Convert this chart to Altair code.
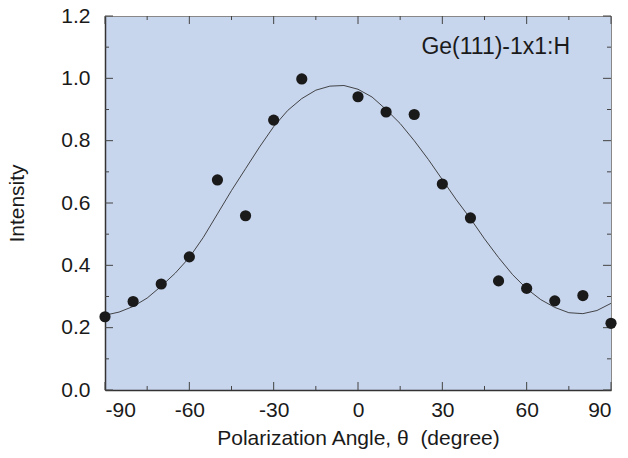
import altair as alt
import pandas as pd

# measured points
theta_pts = [-90, -80, -70, -60, -50, -40, -30, -20, 0, 10, 20, 30, 40, 50, 60, 70, 80, 90]
intensity_pts = [0.235, 0.284, 0.34, 0.427, 0.674, 0.559, 0.866, 0.998, 0.941, 0.892, 0.884,
                 0.661, 0.552, 0.35, 0.326, 0.286, 0.303, 0.214]

# fitted curve
fit_theta = [-90, -85, -80, -75, -70, -65, -60, -55, -50, -45, -40, -35, -30, -25, -20, -15,
             -10, -5, 0, 5, 10, 15, 20, 25, 30, 35, 40, 45, 50, 55, 60, 65, 70, 75, 80, 85, 90]
fit_intensity = [0.24, 0.25, 0.268, 0.295, 0.333, 0.375, 0.425, 0.49, 0.565, 0.64, 0.71,
                 0.78, 0.845, 0.897, 0.935, 0.962, 0.975, 0.977, 0.965, 0.94, 0.9, 0.855,
                 0.80, 0.74, 0.675, 0.61, 0.55, 0.485, 0.425, 0.37, 0.325, 0.29, 0.265,
                 0.248, 0.245, 0.255, 0.278]

x_major = [-90, -60, -30, 0, 30, 60, 90]
x_minor = [-75, -45, -15, 15, 45, 75]
y_major = [0.0, 0.2, 0.4, 0.6, 0.8, 1.0, 1.2]
y_minor = [0.1, 0.3, 0.5, 0.7, 0.9, 1.1]

label_text = ["Ge(111)-1x1:H"]
label_x = [49]
label_y = [1.1]

W, H = 506, 374
FONT = "Liberation Sans"
FS = 21

xs = alt.Scale(domain=[-90, 90], nice=False, zero=False)
ys = alt.Scale(domain=[0, 1.2], nice=False, zero=True)

pts = pd.DataFrame({"theta": theta_pts, "I": intensity_pts})
fit = pd.DataFrame({"theta": fit_theta, "I": fit_intensity})
xmaj = pd.DataFrame({"v": x_major})
xmin = pd.DataFrame({"v": x_minor})
ymaj = pd.DataFrame({"v": y_major})
ymin = pd.DataFrame({"v": y_minor})
lab = pd.DataFrame({"t": label_text, "x": label_x, "y": label_y})

xaxis = alt.Axis(values=x_major, labelExpr="replace(datum.label, '\u2212', '-')",
                 format="d", labelFontSize=FS, labelFont=FONT,
                 labelColor="#1a1a1a", tickSize=0, labelPadding=9, grid=False,
                 domainColor="#333333", domainWidth=1.5,
                 title="Polarization Angle, θ\u00a0 (degree)", titleFontSize=FS,
                 titleFont=FONT, titleFontWeight="normal", titleColor="#1a1a1a",
                 titlePadding=7)
yaxis = alt.Axis(values=y_major, format=".1f", labelFontSize=FS, labelFont=FONT,
                 labelColor="#1a1a1a", tickSize=0, labelPadding=15, grid=False,
                 domainColor="#333333", domainWidth=1.5,
                 title="Intensity", titleFontSize=FS, titleFont=FONT,
                 titleFontWeight="normal", titleColor="#1a1a1a", titlePadding=33)

curve = alt.Chart(fit).mark_line(color="#333333", strokeWidth=0.9).encode(
    x=alt.X("theta:Q", scale=xs, axis=xaxis),
    y=alt.Y("I:Q", scale=ys, axis=yaxis),
)
dots = alt.Chart(pts).mark_circle(color="#1a1a1a", opacity=1, size=125).encode(
    x=alt.X("theta:Q", scale=xs), y=alt.Y("I:Q", scale=ys)
)
text = alt.Chart(lab).mark_text(font=FONT, fontSize=23, color="#1a1a1a").encode(
    x=alt.X("x:Q", scale=xs), y=alt.Y("y:Q", scale=ys), text="t:N"
)

tc = "#444444"
def xticks(df, L):
    b = alt.Chart(df).mark_rule(color=tc, strokeWidth=1).encode(
        x=alt.X("v:Q", scale=xs), y=alt.value(H), y2=alt.value(H - L))
    t = alt.Chart(df).mark_rule(color=tc, strokeWidth=1).encode(
        x=alt.X("v:Q", scale=xs), y=alt.value(0), y2=alt.value(L))
    return b + t

def yticks(df, L):
    l = alt.Chart(df).mark_rule(color=tc, strokeWidth=1).encode(
        y=alt.Y("v:Q", scale=ys), x=alt.value(0), x2=alt.value(L))
    r = alt.Chart(df).mark_rule(color=tc, strokeWidth=1).encode(
        y=alt.Y("v:Q", scale=ys), x=alt.value(W), x2=alt.value(W - L))
    return l + r

chart = alt.layer(
    curve, xticks(xmaj, 8), xticks(xmin, 4), yticks(ymaj, 8), yticks(ymin, 4), dots, text
).properties(
    width=W, height=H,
    background="white",
    autosize=alt.AutoSizeParams(type="none"),
    padding={"left": 105, "top": 16, "right": 17, "bottom": 68},
).configure_view(
    fill="#c7d5ed", stroke="#888888", strokeWidth=1
)

chart.save("out.html", embed_options={"renderer": "svg", "actions": False})
